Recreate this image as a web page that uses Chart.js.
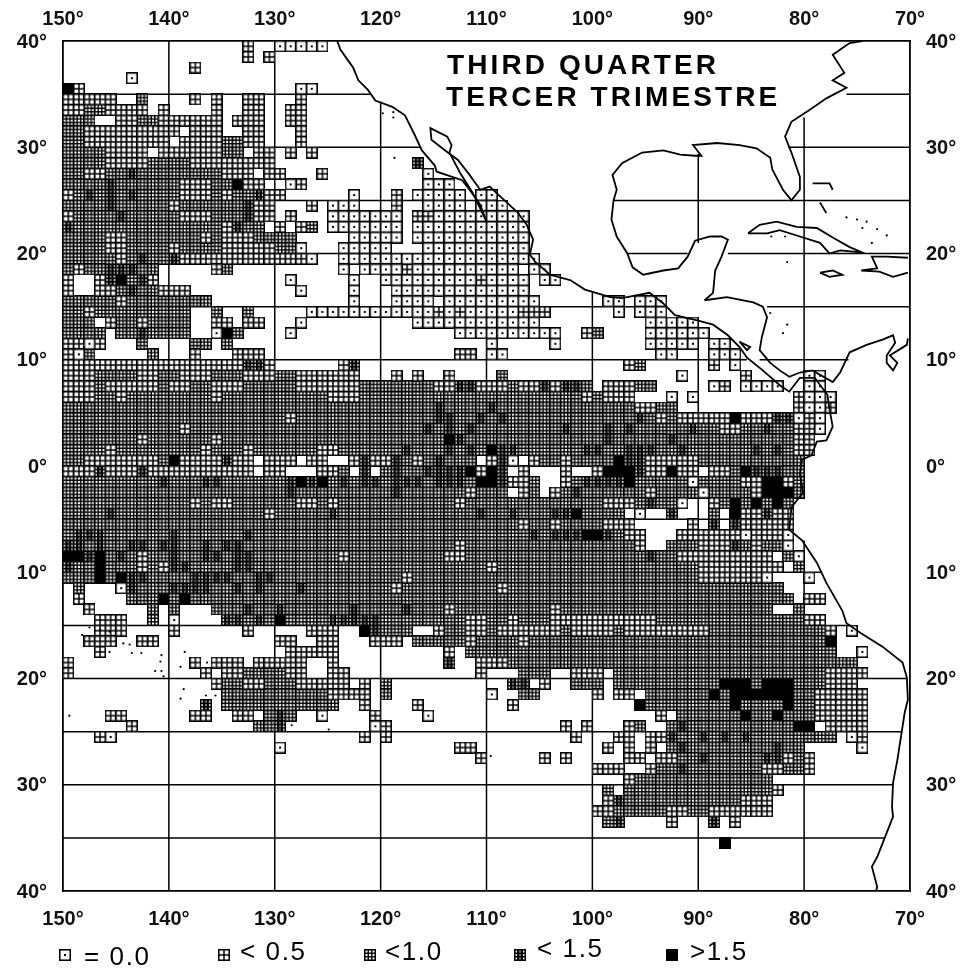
<!DOCTYPE html>
<html><head><meta charset="utf-8">
<style>html,body{margin:0;padding:0;background:#fff}canvas{display:block}</style>
<script src="https://cdn.jsdelivr.net/npm/chart.js@4/dist/chart.umd.min.js"></script>
</head><body><canvas id="c" width="961" height="972"></canvas>
<script>
// Legend classes, from lowest to highest
const classLabels = ["= 0.0", "< 0.5", "<1.0", "< 1.5", ">1.5"];
const lonTicks = [150,140,130,120,110,100,90,80,70];
const latTicks = [40,30,20,10,0,-10,-20,-30,-40];
const titleLines = ["THIRD QUARTER", "TERCER TRIMESTRE"];

// One-degree cells, one entry per row from 40N southwards. "from-to:class", columns count from 150W;
// class 1..5 as in the legend, 0 clears a cell; later runs overwrite earlier ones.
const cellRows = [
"17:2 20-24:1",
"17:2 19:2",
"12:2",
"6:1",
"0:5 1:2 22-23:1",
"0-4:2 7:3 12:2 14:2 17-18:2 22:2",
"0-7:2 2-3:3 9:2 14:2 17-18:2 21-22:2",
"0-2:3 5-14:2 7-8:3 16-18:2 21-22:2",
"0-10:2 0-1:3 12-14:2 17-18:2 22:2",
"0-9:2 0-1:3 11-18:2 15-16:3 22:2",
"0-3:3 4-7:2 9-16:2 15-16:3 18-19:2 21:2 23:2",
"0-19:2 0-3:3 8-11:3 33:4",
"0-17:2 0-1:3 4-5:3 6:4 7-14:3 19-20:2 24:2 34:1",
"0-15:3 4:4 11-13:2 16:5 17-18:2 21:1 22:2 34-36:1",
"0-20:3 0:2 2:4 4:4 6:4 11-13:2 15:2 18:4 19-20:2 27:1 31:2 33-37:1 39-40:1",
"0-19:3 4:4 10:2 17:4 18-19:2 23:2 25-27:1 31:2 34-37:1 39-41:1",
"0-19:3 0:2 5:4 11-13:2 17:4 18-19:2 21:2 25-31:1 33-34:2 35-43:1",
"0-18:3 0:4 15:2 16:4 20:2 22:2 23:3 25-31:1 33-43:1",
"0-21:3 4-5:2 13:2 15-17:2 27-31:1 33-43:1",
"0-21:3 4-5:2 10:2 15-19:2 22:1 26-30:1 34-43:1",
"0-10:3 5:2 7:4 10:4 11-22:2 23:1 26-44:1",
"0-8:3 1:2 4-6:4 14:2 15:3 26:1 28-31:1 32:2 33-42:1 44-45:1",
"0:2 3-8:3 3:2 4:4 5:5 7:4 8:2 21:1 27:1 30-43:1 39:2 45-46:1",
"0:2 3-11:3 3-4:2 6:4 9-11:2 22:1 27:1 31-43:1",
"0-13:3 5:2 27:1 31-34:1 36-44:1 51-52:1 54-56:1",
"0-11:3 2:2 14:3 17:3 23-34:1 35:2 36:1 37:2 38-42:1 43-45:2 52:1 54-56:1",
"0-2:3 4:2 5-11:3 7:2 14-15:2 17-18:2 22:1 33-44:1 55-59:1",
"0-3:3 5-11:3 7:4 14:1 15:5 16:3 21:1 37-46:1 49:2 50:3 55-60:1",
"0-1:2 2:1 3:2 7:3 12-13:3 15:3 40:1 46:1 55-59:1 61-62:1",
"0:2 1:1 2:3 8:3 12:2 16-18:2 37-38:2 40-41:1 56-57:1 61-63:1",
"0-19:2 17-18:4 26:2 27:4 53:2 54:3 61:2 63:1",
"0-27:2 3-6:3 9-10:3 14-16:3 20-21:3 31:2 33:2 36:2 41:3 58:1 64:2 70-71:1",
"0-49:3 0-2:2 4-8:2 10-11:2 14-16:2 22-27:2 35-36:2 37:4 38:4 39-41:2 43-44:2 45:4 46:2 47-48:4 51-55:2 54-55:3 61:1 62:2 64-67:1 70-71:1",
"0-53:3 0-2:2 5:2 14:2 25-27:2 49:2 51-53:2 57:1 59:1 69:2 70-72:1",
"0-57:3 35:4 40:4 54-55:2 69:2 70-71:1 72:2",
"0-71:3 21:2 35-36:4 39:4 41:4 54:4 56:2 58-62:2 63:5 64-66:2 67-68:4 69:1 70:2 71:1",
"0-71:3 11:2 34:4 36:4 38:4 47:4 51:4 53:4 59:4 62-63:2 66:4 69-70:2 71:1",
"0-70:3 7:2 14:2 36:5 37:4 51:4 57:4 69-70:2",
"0-70:3 4:2 13:2 17:2 24-25:2 32:4 36:4 38:4 40:5 41-42:4 49-50:4 53-55:4 58:4 65:4 67:4 69-70:2",
"0-69:3 2-8:2 10:5 11-14:2 16-17:2 15:4 18:0 19-21:2 22:0 23-24:2 25-26:0 27:2 28:4 29-30:2 31:4 33:2 35:4 39:0 40:2 41:4 42:1 43:0 44:2 47:2 52:5 53-54:4 55-59:2",
"0-69:3 0-8:2 3:4 7:4 9-17:2 18:0 19-20:2 21-23:0 24-25:2 27:0 28:4 29:0 31:4 34-37:4 38:5 39:2 40:5 41:4 42:0 43:2 44-46:0 47:2 48-49:0 50:2 51-53:5 54:4 55-56:2 57:5 58-59:2 60:0 61-62:2 64:5 65-67:4",
"0-69:3 9:4 13-14:4 21:4 22:5 23:4 24:5 26:4 28-29:4 31-33:4 35-37:4 39-40:5 41:4 42-43:2 45-46:0 47:2 49-52:4 53:5 59:1 64-65:2 66-67:5 68:2",
"0-69:3 21:4 31:4 38:2 42:0 43:2 45:0 46:2 48:4 55:2 60:1 65:2 66-68:5",
"0-68:3 12:2 14-15:2 22-23:2 25:2 37:2 51-53:2 55:4 58:1 59-60:0 61:2 63:5 65:5 67:5",
"0-68:3 4:4 19:2 25:4 39:4 42:4 46-47:4 48:5 53:0 54:1 55-56:0 57:4 58-60:0 62:0 63:5 64-68:2 66:4",
"0-68:3 43:2 46:2 51-53:2 54-58:0 59:2 60:0 61:4 62:0 63:4 64-68:2",
"0-68:3 1-3:4 10:4 17:4 44:4 46-48:4 49-50:5 51:4 53-54:2 55-57:0 58-63:2 64:1 65-67:2 68:1",
"0-68:3 0-1:4 3:4 6-7:4 9-10:4 13:4 15-16:4 37:2 54:2 55-56:0 60-62:2 63:4 65:2 68:1",
"0-69:3 0-1:5 2:4 3:5 5:4 7:2 10:4 13-14:4 16-17:4 26:2 36-37:2 55:4 58-66:2 67:0 69:1",
"0-69:3 0:4 3:5 7:2 9:2 10-11:4 16-17:4 40:2 60-67:2 68:0",
"0-66:3 3:5 5:5 6-7:4 12-15:4 18-19:4 32:2 60-65:2 66:1 70:1",
"1:3 5:1 6-67:3 6:4 10-13:4 16:4 18:4 22:4 31:2 41:2",
"1:2 6-68:3 9:5 11:5 70-71:2",
"2:2 8:3 10:3 14-66:3 17:4 20:4 27:4 32:4 36:2 46:2 69:3",
"3-5:2 8:3 10:1 15-71:3 15-16:4 18:4 20:5 25-26:4 27-29:4 38-39:2 42:2 46-55:2 70-71:2",
"3-5:2 10:2 17:2 23-25:2 28:5 29:4 30-32:3 35-72:3 35:2 38-39:2 41-46:2 48-51:2 53-60:2 72:2 74:1",
"2-4:2 7-8:2 20-21:2 24-25:2 29-31:2 33-72:3 38:2 43:2 72:5",
"3:2 21:2 22-25:2 36:2 38-72:3 75:1",
"0:2 12:2 14-16:2 18-22:2 25:2 36:4 39-41:2 42-74:3",
"0:2 13:2 15-22:2 17-20:3 25-26:2 39:2 43-45:3 48-50:2 52-75:3 72-75:2",
"14:2 15-24:3 17-18:2 22-24:2 25-26:2 28:2 30:3 42-43:4 45:2 48-50:3 52-74:3 62-64:5 66-68:5 72-74:2",
"15-24:3 25-27:2 28:2 30:3 40:1 43-44:3 50:2 52-53:2 55-75:3 61:5 63-68:5 71-75:2",
"13:4 15-25:3 28:2 33:2 42:2 54:5 55-75:3 63:5 68:5 71-75:2",
"4-5:2 12-13:2 16-17:2 19-21:3 20:4 24:1 29:2 34:1 56:2 58-75:3 64:5 67:5 71-75:2",
"6:2 18-19:3 20:4 29:1 30:2 47:2 49:2 53:2 54:3 57-68:3 58:4 69-70:5 72-75:2",
"3:2 4:1 28:2 30:2 48:2 52-53:2 55-72:3 55-56:2 57:4 60:4 62:4 64:4 74:1 75:2",
"20:1 37-38:2 51:2 53:2 55:2 57-69:3 58:4 67:4 75:1",
"39:2 45:2 47:2 53-54:2 56-69:3 56-57:2 60:4 66-67:4 68:2 70:2",
"50-52:2 55-70:3 55:2 58:4 66-67:2 70:2",
"53:2 54-66:3",
"51:3 53-66:3 67:2",
"51:2 52:4 53-66:3 64-66:2",
"50-51:2 52-66:3 57-58:2 61-66:2",
"51:3 52:4 57:2 61:4 63:2",
"",
"62:5",
"","","",""
];

// Coastlines as [west longitude, latitude]; negative latitude is south
const coastPacific = [[124.1,40],[123.8,39.2],[123.1,38.2],[122.6,37.5],[122.1,36.3],[121.2,35.4],[120.5,34.4],[118.9,33.8],[117.7,33],[116.8,31.2],[116.1,29.7],[114.9,28.3],[114.7,27.7],[112.3,26.9],[111.6,26],[110.6,24.6],[110,23],[111.3,25.7],[112.5,27.6],[113.5,29.5],[113.3,30.2],[113.7,31],[115.3,31.8],[115.2,30.7],[113.9,29.7],[112.7,28.8],[111.6,27.4],[110.6,26],[109.7,26.3],[108.3,25],[107.1,23.9],[106.2,22.7],[105.6,21.3],[105.9,19.9],[105.4,19.2],[104,18],[102.1,17.5],[100.7,16.6],[98.3,15.9],[97.2,15.8],[94.6,16.3],[93.3,15.3],[92.2,14.2],[90.1,13.7],[88.6,13.3],[87.2,12.3],[86.1,11.2],[85.4,10.2],[83.9,9],[82.3,7.6],[81.4,7],[80.4,8.3],[79,8.3],[77.8,6.7],[77.6,5.3],[77.3,3.7],[77.9,2.4],[78.8,2.3],[79.3,1],[80.2,.6],[80.4,-.7],[80.1,-2.5],[81.2,-3.9],[81.4,-6],[80.2,-7],[78.8,-9.1],[77.9,-11],[76.4,-13.6],[76,-14.8],[74.7,-15.7],[72.6,-17],[70.7,-18.5],[70.3,-19.9],[70.2,-22],[70.5,-23.2],[71.2,-27.7],[71.6,-29.8],[71.7,-32.1],[71.6,-33],[73.1,-36.8],[73.6,-37.7],[73.1,-39.6],[73.2,-40]];
const coastCaribbean = [[89.4,15.6],[87.3,15.9],[84.8,15.4],[83.9,15],[83.5,14],[84,12.1],[84.2,10.9],[83.2,9.7],[82.3,9],[81.4,8.4],[80.4,8.8],[79.2,9],[77.3,7.9],[76.6,8.8],[75.7,10.7],[74.1,11.4],[72.6,11.9],[71.6,12.3],[71.4,11.6],[72.2,10.4],[72.2,9.7],[71.6,9],[71.2,9.7],[71.9,10.4],[70.3,11.4],[70.2,12]];
const coastGulf = [[89.4,15.6],[88.6,16.3],[88.4,18.4],[87.8,19.7],[87.2,21.3],[87.8,21.6],[88.9,21.6],[90.3,21.2],[91,19.7],[91.9,18.6],[93.3,18.4],[95.2,18],[96.2,18.7],[96.7,20],[97.7,21.6],[98.2,23.2],[98,25],[97.7,26],[98.1,27.4],[97.2,28.5],[95.3,29.5],[93.3,29.7],[91.7,29.3],[90.3,29.2],[89.7,29.2],[90.5,30.2],[88.2,30.4],[86.1,30.2],[84.5,29.9],[83.2,29],[83,27.9],[82,26],[81.2,25],[80.4,26],[80.4,27.2],[81.2,29.5],[81.8,31],[81.2,32.4],[79.5,33.5],[77.9,34.6],[76,35.6],[77.3,36.3],[76.2,37],[77.3,38.7],[75.7,39.8],[74.5,40]];
const coastCuba = [[85.3,21.9],[84.2,22.7],[82.6,23],[80.7,22.5],[78.8,22.4],[77.3,21.5],[75.7,20.6],[74.5,20.1],[76.6,20.3],[77.6,20],[78.5,21],[80.4,21.6],[82.3,22.2],[83.5,21.9],[85.3,21.9]];
const coastJamaica = [[78.5,18.2],[77.3,18.4],[76.4,18],[77.6,17.8],[78.5,18.2]];
const coastHispaniola = [[70.2,19.6],[72.2,19.7],[73.6,19.7],[73.1,18.6],[74.6,18.4],[72.9,18.3],[71.6,17.8],[70.2,18.2]];
const coastBahamaA = [[79.2,26.6],[77.6,26.6],[77.3,26]];
const coastBahamaB = [[78.5,24.8],[77.9,23.8]];
const lakeNicaragua = [[86.1,11.7],[85.1,11.2],[85.4,10.9],[86.1,11.7]];
const smallIslands = [[147.5,-15.2],[146.5,-15.4],[145.6,-15.6],[148.2,-15.9],[144.3,-16.7],[143.7,-16.8],[145.6,-17.5],[143.5,-17.6],[142.6,-17.6],[140.7,-17.8],[140.8,-18.4],[141.3,-19.3],[140.7,-19.3],[140.5,-19.8],[138.5,-17.5],[138.9,-18.9],[136.4,-18.5],[138.6,-21],[138.9,-21.9],[136.5,-21.6],[135.6,-21.6],[149.4,-23.5],[128.4,-24.4],[124.9,-24.8],[109.6,-27.3],[119.8,33.2],[118.8,33.3],[118.8,32.8],[118.7,29],[81.6,19.2],[83.2,14.4],[81.6,13.3],[82,12.5],[83.1,21.6],[81.8,21.6],[76,23.4],[75,23.2],[74.1,23],[74.5,22.4],[73.1,22.3],[72.2,21.7],[73.6,21]];

// Ocean-only graticule: [latitude, from lon, to lon] and [longitude, from lat, to lat]
const parallels = [[35,150,121],[35,76,70],[30,150,116.3],[30,81.5,70],[25,150,110.6],[25,98,70],[20,150,105.9],[20,96.7,91],[20,87.2,70],[15,150,93.4],[15,83.5,70],[10,150,85.4],[10,84.2,75.8],[5,150,77.6],[0,150,80],[-5,150,81.4],[-10,150,78.4],[-15,150,75.5],[-20,150,70.3],[-25,150,70.8],[-30,150,71.7],[-35,150,72.4]];
const meridians = [[140,40,-40],[130,40,-40],[120,34.3,-40],[110,23,-40],[100,16.3,-40],[90,29.4,21],[90,14,-40],[80,32.8,8.5],[80,-7,-40]];

function makeIcon(cls){
  const S = 12, m = 0.7, w = 10.6, c = document.createElement('canvas');
  c.width = S; c.height = S;
  const g = c.getContext('2d');
  g.fillStyle = cls === 5 ? '#000' : '#fff';
  g.fillRect(m, m, w, w);
  g.strokeStyle = '#000';
  g.lineWidth = 1.7;
  g.strokeRect(m, m, w, w);
  const lines = (n, lw) => {
    g.lineWidth = lw;
    for (let i = 1; i < n; i++) {
      const p = m + w * i / n;
      g.beginPath(); g.moveTo(p, m); g.lineTo(p, m + w); g.stroke();
      g.beginPath(); g.moveTo(m, p); g.lineTo(m + w, p); g.stroke();
    }
  };
  if (cls === 1) { g.fillStyle = '#000'; g.fillRect(S/2 - 1, S/2 - 1, 2, 2); }
  if (cls === 2) lines(2, 1.5);
  if (cls === 3) lines(3, 1.4);
  if (cls === 4) { lines(3, 1.5); g.lineWidth = 2.6; [1,2].forEach(i => { const p = m + w*i/3; g.beginPath(); g.moveTo(p, m); g.lineTo(p, m+w); g.stroke(); }); }
  return c;
}
const icons = [1,2,3,4,5].map(makeIcon);

// Expand the runs to cell centres
const cellsByClass = [[],[],[],[],[],[]];
cellRows.forEach((row, r) => {
  const grid = {};
  row.split(' ').filter(Boolean).forEach(tok => {
    const [span, cls] = tok.split(':');
    const [a, b] = span.split('-').map(Number);
    for (let col = a; col <= (b === undefined ? a : b); col++) grid[col] = +cls;
  });
  Object.keys(grid).forEach(col => {
    cellsByClass[grid[col]].push({x: 150 - (+col) - 0.5, y: 40 - r - 0.5});
  });
});

const asPts = arr => arr.map(p => ({x: p[0], y: p[1]}));
const inkLine = (label, data, width) => ({type:'scatter', label, data, showLine:true, borderColor:'#000', borderWidth:width, pointRadius:0, spanGaps:false, tension:0, fill:false});

const coastSets = [coastPacific, coastCaribbean, coastGulf, coastCuba, coastJamaica, coastHispaniola, coastBahamaA, coastBahamaB, lakeNicaragua]
  .map(a => inkLine('coast', asPts(a), 1.8));
const gridSegs = [];
parallels.forEach(p => gridSegs.push({x:p[1],y:p[0]},{x:p[2],y:p[0]},{x:NaN,y:NaN}));
meridians.forEach(m => gridSegs.push({x:m[0],y:m[1]},{x:m[0],y:m[2]},{x:NaN,y:NaN}));

const datasets = [
  ...coastSets,
  {type:'scatter', label:'islands', data: asPts(smallIslands), pointRadius:1.1, pointBackgroundColor:'#000', pointBorderWidth:0},
  ...classLabels.map((label, i) => ({type:'scatter', label, data: cellsByClass[i+1], pointStyle: icons[i], pointRadius:5, pointBorderWidth:0})),
  inkLine('graticule', gridSegs, 1.5)
];

const tickFont = {family:"'Liberation Sans',Arial,sans-serif", size:20, weight:'bold'};
const lonAxis = (position, fit, pad) => ({
  type:'linear', position, reverse:true, min:70, max:150,
  afterBuildTicks: s => { s.ticks = lonTicks.map(v => ({value:v})); },
  afterFit: s => { s.height = fit; },
  grid:{display:false}, border:{display:true, color:'#000', width:1.8},
  ticks:{autoSkip:false, maxRotation:0, color:'#111', font:tickFont, padding:pad, callback:v => Math.abs(v)+'°'}
});
const latAxis = (position, fit, pad) => ({
  type:'linear', position, min:-40, max:40,
  afterBuildTicks: s => { s.ticks = latTicks.map(v => ({value:v})); },
  afterFit: s => { s.width = fit; },
  grid:{display:false}, border:{display:true, color:'#000', width:1.8},
  ticks:{autoSkip:false, color:'#111', font:tickFont, padding:pad, labelOffset:1, callback:v => Math.abs(v)+'°'}
});

const annotate = {
  id:'annotate',
  afterDraw(chart){
    const g = chart.ctx;
    g.save();
    g.fillStyle = '#000';
    g.textBaseline = 'middle';
    g.textAlign = 'left';
    g.font = "bold 28px 'Liberation Sans',Arial,sans-serif";
    g.letterSpacing = '3.1px';
    g.fillText(titleLines[0], 447, 66);
    g.fillText(titleLines[1], 446, 98);
    g.font = "26px 'Liberation Sans',Arial,sans-serif";
    g.letterSpacing = '1.6px';
    const iconX = [65,224,370,520,672], textX = [84,240,385,537,690], textY = [958,953,953,950,953];
    classLabels.forEach((t,i) => {
      g.drawImage(icons[i], iconX[i]-6, 949, 12, 12);
      g.fillText(t, textX[i], textY[i]);
    });
    g.restore();
  }
};

new Chart(document.getElementById('c'), {
  data:{datasets},
  plugins:[annotate],
  options:{
    responsive:false, animation:false, devicePixelRatio:1,
    layout:{padding:0},
    plugins:{legend:{display:false}, tooltip:{enabled:false}, title:{display:false}},
    scales:{
      x: lonAxis('bottom', 81, 8),
      x2: {...lonAxis('top', 41, 2), axis:'x'},
      y: latAxis('left', 63, 8),
      y2: {...latAxis('right', 51, 8), axis:'y'}
    }
  }
});
</script></body></html>
